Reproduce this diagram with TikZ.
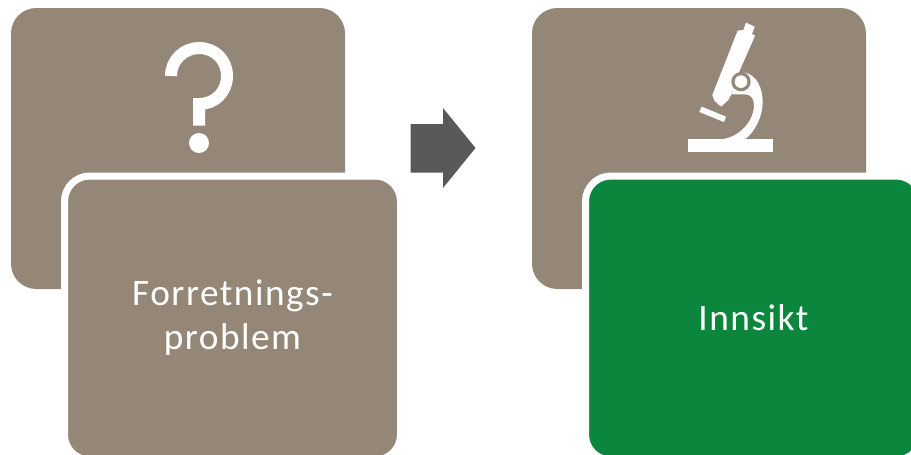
\documentclass[tikz,border=0pt]{standalone}
\usepackage{fontspec}
\setmainfont{Carlito}[LetterSpace=4]
\usetikzlibrary{positioning}

\definecolor{cardbrown}{HTML}{948777}
\definecolor{cardgreen}{HTML}{0A873C}
\definecolor{arrowgray}{HTML}{595959}

\begin{document}
\begin{tikzpicture}[
    x=0.75pt, y=-0.75pt,
    backcard/.style={fill=cardbrown, rounded corners=19pt, minimum width=250.5pt, minimum height=210.75pt, inner sep=0pt},
    frontcard/.style={fill=#1, draw=white, line width=5.25pt, rounded corners=19pt, minimum width=252pt, minimum height=213pt, inner sep=0pt, align=center, text=white, font=\fontsize{28}{33}\selectfont},
    icon/.style={fill=white, draw=none},
    iconline/.style={draw=white, line width=9pt}
]
\clip (0,0) rectangle (911,454);

% -------------------------
% Back cards
% -------------------------
\node[backcard] (ProblemBack) at (178,148.5) {};
\node[backcard] (InsightBack) at (699,148.5) {};

% -------------------------
% Front cards
% -------------------------
\node[frontcard=cardbrown] (ProblemFront) at (232.5,318) {Forretnings-\\problem};
\node[frontcard=cardgreen] (InsightFront) at (753.5,318) {Innsikt};

% -------------------------
% Question mark icon
% -------------------------
\draw[iconline] (171,76) .. controls (171,60) and (184,48) .. (199,48)
    .. controls (215,48) and (227,60) .. (227,76)
    .. controls (227,92) and (215,104) .. (199,104) -- (199,125.5);
\fill[icon] (199,143) circle (7.5pt);

% -------------------------
% Microscope icon
% -------------------------
\begin{scope}[shift={(620,0)}, x=0.25pt, y=-0.25pt]
    \fill[icon] (204,418) rectangle (459,455); % Base
    \fill[icon] (245,320) -- (318,350) -- (312,366) -- (238,336) -- cycle; % Stage
    \fill[icon] (378,68) -- (404,80) -- (396,102) -- (405,107) -- (352,228)
        -- (334,283) -- (325,300) -- (303,320) -- (283,302) -- (277,285) -- (353,92) -- (370,90) -- cycle; % Tube
    \fill[icon] (375,218) .. controls (410,225) and (428,265) .. (428,305)
        .. controls (428,350) and (405,395) .. (375,418) -- (300,418)
        .. controls (355,415) and (402,365) .. (402,315)
        .. controls (402,295) and (392,283) .. (375,283) -- (335,283) -- (352,225) -- cycle; % Arm
    \fill[cardbrown] (363,245) circle (7.25pt);
    \fill[icon] (363,245) circle (4.75pt); % Knob
\end{scope}

% -------------------------
% Block arrow
% -------------------------
\fill[arrowgray] (410.5,124) -- (443,124) -- (443,108) -- (475.5,148) -- (443,188) -- (443,172.5) -- (410.5,172.5) -- cycle;

\end{tikzpicture}
\end{document}
